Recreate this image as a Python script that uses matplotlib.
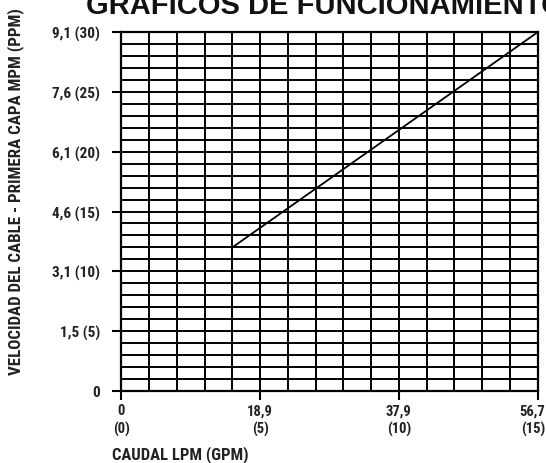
import matplotlib
matplotlib.use("Agg")
import matplotlib.pyplot as plt
from matplotlib import font_manager as fm
from matplotlib.transforms import ScaledTranslation

# Data
x_gpm_ticks = [0, 5, 10, 15]
x_tick_labels = ["0\n(0)", "18,9\n(5)", "37,9\n(10)", "56,7\n(15)"]
y_fpm_ticks = [0, 5, 10, 15, 20, 25, 30]
y_tick_labels = ["0", "1,5 (5)", "3,1 (10)", "4,6 (15)", "6,1 (20)", "7,6 (25)", "9,1 (30)"]
line_gpm = [4, 15]
line_fpm = [12, 30]
title = "GRAFICOS DE FUNCIONAMIENTO"
xlabel = "CAUDAL LPM (GPM)"
ylabel = "VELOCIDAD DEL CABLE - PRIMERA CAPA MPM (PPM)"

names = {f.name for f in fm.fontManager.ttflist}
narrow = "DejaVu Sans"
for cand in ["Liberation Sans Narrow", "DejaVu Sans Condensed", "Roboto Condensed", "Open Sans Condensed"]:
    if cand in names:
        narrow = cand
        break
wide = "Liberation Sans" if "Liberation Sans" in names else "DejaVu Sans"
fam = [narrow, "DejaVu Sans"]

W, H = 546, 464
fig = plt.figure(figsize=(W / 100, H / 100), dpi=100)
left, right, top, bottom = 121.5, 537.5, 33.3, 391.7
ax = fig.add_axes([left / W, 1 - bottom / H, (right - left) / W, (bottom - top) / H])

ax.set_xlim(0, 15)
ax.set_ylim(0, 30)
ax.set_xticks(x_gpm_ticks)
ax.set_xticklabels(x_tick_labels, family=fam, fontweight="bold", fontsize=10.5, linespacing=1.35,
                   color="#222222")
ax.set_yticks(y_fpm_ticks)
ax.set_yticklabels(y_tick_labels, family=fam, fontweight="bold", fontsize=11, color="#222222")
ax.set_xticks(range(0, 16), minor=True)
ax.set_yticks(range(0, 31), minor=True)
ax.tick_params(which="major", length=6.5, width=1.5, color="black")
ax.tick_params(axis="y", which="major", pad=9)
ax.tick_params(axis="x", which="major", pad=2.5)
ax.tick_params(which="minor", length=0)
ax.grid(which="both", color="black", linewidth=1.4)
ax.set_axisbelow(True)
for s in ax.spines.values():
    s.set_linewidth(1.6)
    s.set_color("black")

# last x tick label sits flush with the right edge
last = ax.get_xticklabels()[-1]
last.set_horizontalalignment("right")
last.set_transform(last.get_transform() + ScaledTranslation(8 / 100, 0, fig.dpi_scale_trans))

ax.plot(line_gpm, line_fpm, color="black", linewidth=1.3)

fig.text(86 / W, 1 - 14 / H, title, family=[wide, "DejaVu Sans"], fontweight="bold",
         fontsize=21, ha="left", va="baseline", color="#111111")
fig.text(112 / W, 1 - 459 / H, xlabel, family=fam, fontweight="bold",
         fontsize=12, ha="left", va="baseline", color="#222222")
fig.text(16 / W, 1 - 192 / H, ylabel, family=fam, fontweight="bold",
         fontsize=12.2, ha="center", va="center", rotation=90, color="#222222")

fig.savefig("out.png", dpi=100)
